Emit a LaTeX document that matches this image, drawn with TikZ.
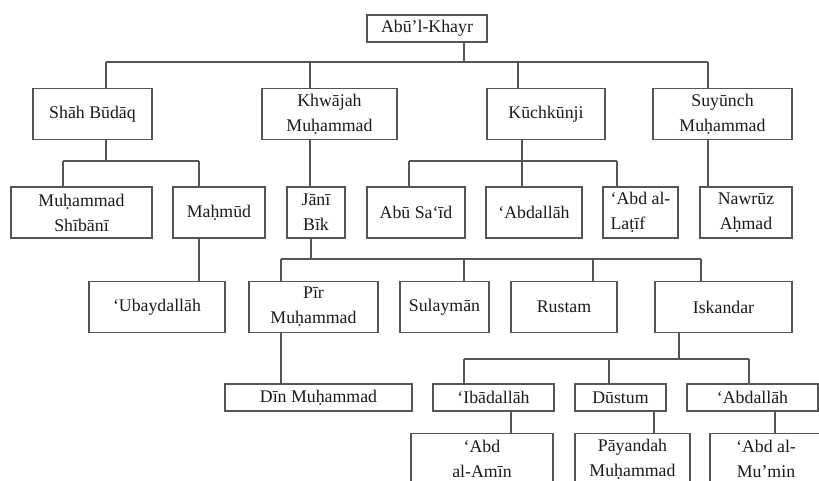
\documentclass[tikz,border=0pt]{standalone}
\usepackage{fontspec}
\setmainfont{Liberation Serif}
\definecolor{linegray}{HTML}{555555}
\definecolor{textgray}{HTML}{1A1A1A}

\begin{document}
\begin{tikzpicture}
	[x=1pt,y=-1pt,line width=1.2pt,
		name node/.style={draw=linegray,rectangle,inner sep=0pt,align=center,text=textgray,font=\fontsize{17.8}{25}\selectfont},
		one line/.style={name node,minimum height=27},
		two line/.style={name node,minimum height=51},
		link/.style={draw=linegray}]

	\useasboundingbox (0,0) rectangle (819,481);
	\clip (0,0) rectangle (819,481);

	% generation 0 and 1
	\node[one line, minimum width=120]  (abu)      at (427,28.5)  {Abū’l-Khayr};
	\node[two line, minimum width=119]  (shah)     at (92.5,114)  {Shāh Būdāq};
	\node[two line, minimum width=135]  (khwajah)  at (329.5,114) {Khwājah\\Muḥammad};
	\node[two line, minimum width=118]  (kuch)     at (546,114)   {Kūchkūnji};
	\node[two line, minimum width=139]  (suyunch)  at (722.5,114) {Suyūnch\\Muḥammad};

	% generation 2
	\node[two line, minimum width=141]  (shibani)  at (81.5,212.5) {Muḥammad\\Shībānī};
	\node[two line, minimum width=92]   (mahmud)   at (219,212.5)  {Maḥmūd};
	\node[two line, minimum width=58]   (jani)     at (316,212.5)  {Jānī\\Bīk};
	\node[two line, minimum width=98]   (abusaid)  at (416,212.5)  {Abū Sa‘īd};
	\node[two line, minimum width=96]   (abdallah) at (534,212.5)  {‘Abdallāh};
	\node[two line, minimum width=75, align=left] (latif) at (640.5,212.5) {‘Abd al-\\Laṭīf};
	\node[two line, minimum width=92]   (nawruz)   at (746,212.5)  {Nawrūz\\Aḥmad};

	% generation 3
	\node[two line, minimum width=136]  (ubayd)    at (157,307)    {‘Ubaydallāh};
	\node[two line, minimum width=129]  (pir)      at (313.5,307)  {Pīr\\Muḥammad};
	\node[two line, minimum width=89]   (sulayman) at (444.5,307)  {Sulaymān};
	\node[two line, minimum width=106]  (rustam)   at (564,307)    {Rustam};
	\node[two line, minimum width=137]  (iskandar) at (723.5,307)  {Iskandar};

	% generation 4
	\node[one line, minimum width=187]  (din)      at (318.5,397.5) {Dīn Muḥammad};
	\node[one line, minimum width=121]  (ibad)     at (493.5,397.5) {‘Ibādallāh};
	\node[one line, minimum width=91]   (dustum)   at (620.5,397.5) {Dūstum};
	\node[one line, minimum width=131]  (abdallahb) at (752.5,397.5) {‘Abdallāh};

	% generation 5
	\node[two line, minimum width=142]  (amin)     at (482,459)    {‘Abd\\al-Amīn};
	\node[two line, minimum width=115]  (payandah) at (632.5,459)  {Pāyandah\\Muḥammad};
	\node[two line, minimum width=112]  (mumin)    at (766,459)    {‘Abd al-\\Mu’min};

	% branch points
	\coordinate (r0) at (464,62);
	\coordinate (a1) at (106,62);
	\coordinate (a2) at (310,62);
	\coordinate (a3) at (518,62);
	\coordinate (a4) at (708,62);

	\coordinate (s0) at (106,161);
	\coordinate (s1) at (63,161);
	\coordinate (s2) at (199,161);

	\coordinate (k0) at (522,161);
	\coordinate (k1) at (409,161);
	\coordinate (k3) at (617,161);

	\coordinate (j0) at (311,259);
	\coordinate (j1) at (281,259);
	\coordinate (j2) at (464,259);
	\coordinate (j3) at (593,259);
	\coordinate (j4) at (701,259);

	\coordinate (i0) at (679,359);
	\coordinate (i1) at (464,359);
	\coordinate (i2) at (609,359);
	\coordinate (i3) at (749,359);

	\path[link]
	(r0 |- abu.south) edge (r0)
	(a1) edge (a4)
	(a1) edge (a1 |- shah.north)
	(a2) edge (a2 |- khwajah.north)
	(a3) edge (a3 |- kuch.north)
	(a4) edge (a4 |- suyunch.north)

	(s0 |- shah.south) edge (s0)
	(s1) edge (s2)
	(s1) edge (s1 |- shibani.north)
	(s2) edge (s2 |- mahmud.north)

	(a2 |- khwajah.south) edge (a2 |- jani.north)

	(k0 |- kuch.south) edge (k0)
	(k1) edge (k3)
	(k1) edge (k1 |- abusaid.north)
	(k0) edge (k0 |- abdallah.north)
	(k3) edge (k3 |- latif.north)

	(a4 |- suyunch.south) edge (a4 |- nawruz.north)

	(s2 |- mahmud.south) edge (s2 |- ubayd.north)

	(j0 |- jani.south) edge (j0)
	(j1) edge (j4)
	(j1) edge (j1 |- pir.north)
	(j2) edge (j2 |- sulayman.north)
	(j3) edge (j3 |- rustam.north)
	(j4) edge (j4 |- iskandar.north)

	(j1 |- pir.south) edge (j1 |- din.north)

	(i0 |- iskandar.south) edge (i0)
	(i1) edge (i3)
	(i1) edge (i1 |- ibad.north)
	(i2) edge (i2 |- dustum.north)
	(i3) edge (i3 |- abdallahb.north)

	(511,0 |- ibad.south) edge (511,0 |- amin.north)
	(654,0 |- dustum.south) edge (654,0 |- payandah.north)
	(775,0 |- abdallahb.south) edge (775,0 |- mumin.north)
	;

\end{tikzpicture}
\end{document}
